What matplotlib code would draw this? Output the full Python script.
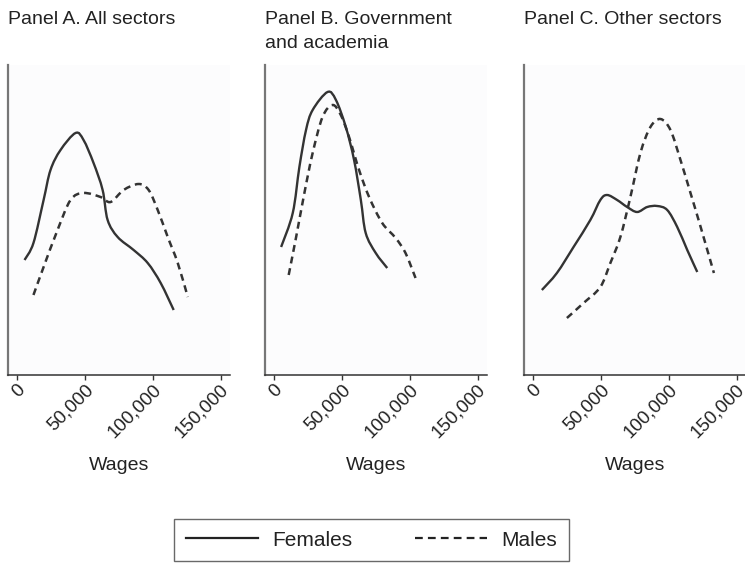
import matplotlib
matplotlib.use("Agg")
import matplotlib.pyplot as plt
from matplotlib.transforms import ScaledTranslation
from matplotlib.lines import Line2D
from matplotlib.path import Path
from matplotlib.patches import PathPatch

plt.rcParams["font.family"] = ["Liberation Sans", "DejaVu Sans"]
plt.rcParams["lines.scale_dashes"] = False

# Kernel density of wages by sex (density in units of 1e-5)
panel_titles = ["Panel A. All sectors", "Panel B. Government\nand academia", "Panel C. Other sectors"]
series_names = ["Females", "Males"]
tick_values = [0, 50000, 100000, 150000]
tick_labels = ["0", "50,000", "100,000", "150,000"]
axis_title = "Wages"

a_female_x = [5200, 11800, 19300, 24400, 31800, 42900, 48800, 56200, 62900, 66600, 74000, 85800, 96200, 105800, 115400]
a_female_y = [1.15, 1.32, 1.75, 2.05, 2.25, 2.42, 2.35, 2.12, 1.85, 1.55, 1.38, 1.25, 1.12, 0.92, 0.65]
a_male_x = [11800, 19300, 29600, 39200, 48800, 61400, 68800, 78400, 89500, 96900, 103600, 111000, 118400, 125800]
a_male_y = [0.80, 1.08, 1.45, 1.75, 1.82, 1.78, 1.73, 1.85, 1.91, 1.85, 1.65, 1.38, 1.12, 0.78]

b_female_x = [4900, 13500, 18400, 23300, 28200, 39200, 45400, 52700, 58800, 63800, 67400, 74800, 83300]
b_female_y = [1.28, 1.62, 2.08, 2.45, 2.65, 2.83, 2.75, 2.48, 2.15, 1.75, 1.42, 1.22, 1.07]
b_male_x = [10500, 16000, 22100, 28200, 35500, 42900, 49000, 55100, 62500, 69900, 79600, 89500, 96800, 104200]
b_male_y = [1.00, 1.38, 1.82, 2.22, 2.58, 2.70, 2.60, 2.38, 2.05, 1.78, 1.52, 1.37, 1.22, 0.97]

c_female_x = [6200, 17300, 29600, 42000, 49400, 54400, 61800, 69200, 76600, 84000, 91400, 98800, 106200, 113600, 121000]
c_female_y = [0.85, 1.02, 1.28, 1.55, 1.75, 1.80, 1.75, 1.68, 1.63, 1.68, 1.69, 1.65, 1.48, 1.25, 1.03]
c_male_x = [24700, 37000, 49400, 56800, 64200, 71600, 79000, 86400, 93800, 101200, 108600, 116000, 123500, 133300]
c_male_y = [0.57, 0.72, 0.88, 1.12, 1.38, 1.78, 2.22, 2.48, 2.56, 2.45, 2.15, 1.82, 1.48, 1.02]

panels = [
    (a_female_x, a_female_y, a_male_x, a_male_y),
    (b_female_x, b_female_y, b_male_x, b_male_y),
    (c_female_x, c_female_y, c_male_x, c_male_y),
]


def smooth_path(xs, ys):
    """Cubic Bezier path passing through every (x, y) point (Catmull-Rom tangents)."""
    n = len(xs)
    verts = [(xs[0], ys[0])]
    codes = [Path.MOVETO]
    for k in range(n - 1):
        x0, y0 = (xs[k - 1], ys[k - 1]) if k > 0 else (xs[k], ys[k])
        x1, y1 = xs[k], ys[k]
        x2, y2 = xs[k + 1], ys[k + 1]
        x3, y3 = (xs[k + 2], ys[k + 2]) if k + 2 < n else (x2, y2)
        c1 = (x1 + (x2 - x0) / 6.0, y1 + (y2 - y0) / 6.0)
        c2 = (x2 - (x3 - x1) / 6.0, y2 - (y3 - y1) / 6.0)
        verts += [c1, c2, (x2, y2)]
        codes += [Path.CURVE4] * 3
    return Path(verts, codes)


W, H = 745, 563
fig = plt.figure(figsize=(W / 100, H / 100), dpi=100)

line_color = "#333333"
dash_pattern = (0, (5, 3.5))
ax_left_px = [8, 265, 524]
ax_w_px = 222
ax_top_px, ax_bot_px = 65, 375

for i, (fx, fy, mx, my) in enumerate(panels):
    l = ax_left_px[i]
    ax = fig.add_axes([l / W, 1 - ax_bot_px / H, ax_w_px / W, (ax_bot_px - ax_top_px) / H])
    ax.set_facecolor("#fcfcfd")
    ax.add_patch(PathPatch(smooth_path(fx, fy), fill=False, edgecolor=line_color,
                           lw=1.7, capstyle="butt"))
    ax.add_patch(PathPatch(smooth_path(mx, my), fill=False, edgecolor=line_color,
                           lw=1.8, linestyle=dash_pattern, capstyle="butt"))
    ax.set_xlim(-7000, 157000)
    ax.set_ylim(0, 3.10)
    ax.set_yticks([])
    ax.spines["top"].set_visible(False)
    ax.spines["right"].set_visible(False)
    ax.spines["left"].set_color("#777777")
    ax.spines["left"].set_linewidth(1.6)
    ax.spines["bottom"].set_color("#333333")
    ax.spines["bottom"].set_linewidth(1.1)
    ax.set_xticks(tick_values)
    ax.set_xticklabels(tick_labels, rotation=45, ha="right", va="center",
                       rotation_mode="anchor", fontsize=13.5)
    ax.tick_params(axis="x", length=3.6, width=1.0, color="#333333", pad=5,
                   labelcolor="#222222")
    shift = ScaledTranslation(0.055, 0, fig.dpi_scale_trans)
    for lab in ax.get_xticklabels():
        lab.set_transform(lab.get_transform() + shift)

    fig.text(l / W, 1 - 11.5 / H, panel_titles[i], ha="left", va="top",
             fontsize=14, color="#222222", linespacing=1.5)
    fig.text((l + ax_w_px / 2) / W, 1 - 470 / H, axis_title, ha="center",
             va="baseline", fontsize=14, color="#222222")

handles = [
    Line2D([], [], color="#222222", lw=1.6),
    Line2D([], [], color="#222222", lw=1.6, dashes=(5.6, 3.7)),
]
leg = fig.legend(handles, series_names, loc="center", bbox_to_anchor=(371.5 / W, 1 - 540 / H),
                 ncol=2, fontsize=15, frameon=True, fancybox=False, shadow=False,
                 handlelength=3.46, handletextpad=0.7, columnspacing=3.0,
                 borderpad=0.55, borderaxespad=0)
frame = leg.get_frame()
frame.set_edgecolor("#444444")
frame.set_linewidth(1.0)
for t in leg.get_texts():
    t.set_color("#222222")

fig.savefig("out.png", dpi=100)
